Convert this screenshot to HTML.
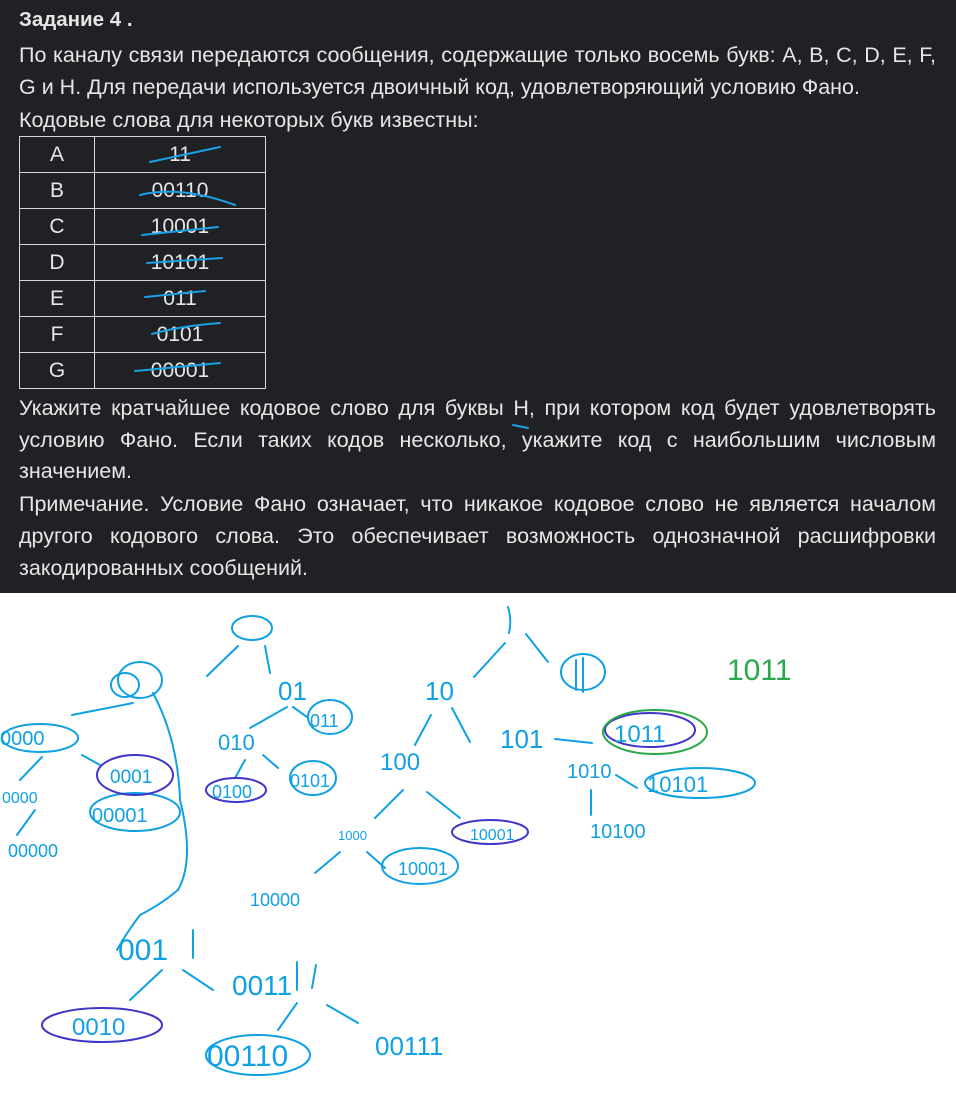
<!DOCTYPE html>
<html><head><meta charset="utf-8"><style>
body{margin:0;width:956px;height:1105px;background:#fff;overflow:hidden;font-family:"Liberation Sans",sans-serif}
#top{position:absolute;left:0;top:0;width:956px;height:593px;background:#202124;color:#e6e6e6}
.l{position:absolute;left:19px;width:917px;font-size:21.5px;white-space:nowrap;line-height:26px}
.j{text-align:justify;text-align-last:justify}
table{position:absolute;left:19px;top:136px;border-collapse:collapse;width:247px}
td{border:1.5px solid #d8d8d8;height:35px;text-align:center;font-size:21px;padding:0}
td:first-child{width:74px}
svg{position:absolute;left:0;top:0}
</style></head><body>
<div id="top">
<div class="l" style="top:7px;font-weight:bold;font-size:20.5px">Задание 4 .</div>
<div class="l j" style="top:42px">По каналу связи передаются сообщения, содержащие только восемь букв: A, B, C, D, E, F,</div>
<div class="l" style="top:74px">G и H. Для передачи используется двоичный код, удовлетворяющий условию Фано.</div>
<div class="l" style="top:107px">Кодовые слова для некоторых букв известны:</div>
<table>
<tr><td>A</td><td>11</td></tr><tr><td>B</td><td>00110</td></tr><tr><td>C</td><td>10001</td></tr>
<tr><td>D</td><td>10101</td></tr><tr><td>E</td><td>011</td></tr><tr><td>F</td><td>0101</td></tr><tr><td>G</td><td>00001</td></tr>
</table>
<div class="l j" style="top:395px">Укажите кратчайшее кодовое слово для буквы H, при котором код будет удовлетворять</div>
<div class="l j" style="top:427px">условию Фано. Если таких кодов несколько, укажите код с наибольшим числовым</div>
<div class="l" style="top:458px">значением.</div>
<div class="l j" style="top:491px">Примечание. Условие Фано означает, что никакое кодовое слово не является началом</div>
<div class="l j" style="top:523px">другого кодового слова. Это обеспечивает возможность однозначной расшифровки</div>
<div class="l" style="top:555px">закодированных сообщений.</div>
</div>
<svg width="956" height="1105" fill="none" stroke-width="2" stroke-linecap="round">
<g stroke="#1aa0e4">
<path d="M150 162L220 147M140 195Q180 185 235 205M142 235L218 227M147 263L222 258M145 297L205 291M152 334Q180 326 220 323M135 371L220 363"/>
<path d="M513 425L528 428"/>
</g>
<g stroke="#10a0e4" font-family="Liberation Sans" fill="none">
<path d="M508 607Q512 620 509 633M505 643L474 677M526 634L548 662M431 715L415 745M452 708L470 742M555 739L592 743M616 775L637 788M591 790L591 815M238 646L207 676M265 646L270 673M287 707L250 728M293 707L307 717M245 760L235 778M263 755L278 768M72 715L133 703M42 757L20 780M82 755L100 765M35 810L17 835M153 693Q178 740 180 800Q195 860 178 890Q160 905 140 915Q125 935 117 950M403 790L375 818M427 792L460 818M340 852L315 873M367 852L385 868M162 970L130 1000M183 970L213 990M297 1003L278 1030M327 1005L358 1023M193 930L193 958M297 962L297 990M316 965L312 988"/>
<ellipse cx="583" cy="672" rx="22" ry="18"/><path d="M576 660V690M583 658V692"/>
<ellipse cx="252" cy="628" rx="20" ry="12"/>
<ellipse cx="330" cy="717" rx="22" ry="17"/>
<ellipse cx="313" cy="778" rx="23" ry="17"/>
<ellipse cx="140" cy="680" rx="22" ry="18"/><ellipse cx="125" cy="685" rx="14" ry="12"/>
<ellipse cx="40" cy="738" rx="38" ry="14"/>
<ellipse cx="135" cy="812" rx="45" ry="19"/>
<ellipse cx="700" cy="783" rx="55" ry="15"/>
<ellipse cx="420" cy="866" rx="38" ry="18"/>
<ellipse cx="258" cy="1055" rx="52" ry="20"/>
</g>
<g stroke="#4036c8">
<ellipse cx="650" cy="730" rx="45" ry="17"/>
<ellipse cx="135" cy="775" rx="38" ry="20"/>
<ellipse cx="236" cy="790" rx="30" ry="12"/>
<ellipse cx="490" cy="832" rx="38" ry="12"/>
<ellipse cx="102" cy="1025" rx="60" ry="17"/>
</g>
<g stroke="#2aa84a"><ellipse cx="655" cy="732" rx="52" ry="22"/></g>
<g fill="#10a0e4" font-family="Liberation Sans" font-size="26">
<text x="425" y="700">10</text><text x="278" y="700">01</text><text x="500" y="748">101</text>
<text x="380" y="770" font-size="24">100</text><text x="218" y="750" font-size="22">010</text>
<text x="567" y="778" font-size="20">1010</text><text x="647" y="792" font-size="22">10101</text>
<text x="590" y="838" font-size="20">10100</text><text x="614" y="742" font-size="24">1011</text>
<text x="310" y="727" font-size="18">011</text><text x="290" y="787" font-size="18">0101</text>
<text x="212" y="798" font-size="18">0100</text><text x="0" y="745" font-size="20">0000</text>
<text x="110" y="783" font-size="19">0001</text><text x="92" y="822" font-size="20">00001</text>
<text x="2" y="803" font-size="16">0000</text><text x="8" y="857" font-size="18">00000</text>
<text x="338" y="840" font-size="13">1000</text><text x="470" y="840" font-size="16">10001</text>
<text x="398" y="875" font-size="18">10001</text><text x="250" y="906" font-size="18">10000</text>
<text x="118" y="960" font-size="30">001</text><text x="232" y="995" font-size="28">0011</text>
<text x="72" y="1035" font-size="24">0010</text><text x="207" y="1066" font-size="30">00110</text>
<text x="375" y="1055" font-size="26">00111</text>
</g>
<text x="727" y="680" fill="#2aa84a" font-family="Liberation Sans" font-size="30">1011</text>
</svg>
</body></html>
